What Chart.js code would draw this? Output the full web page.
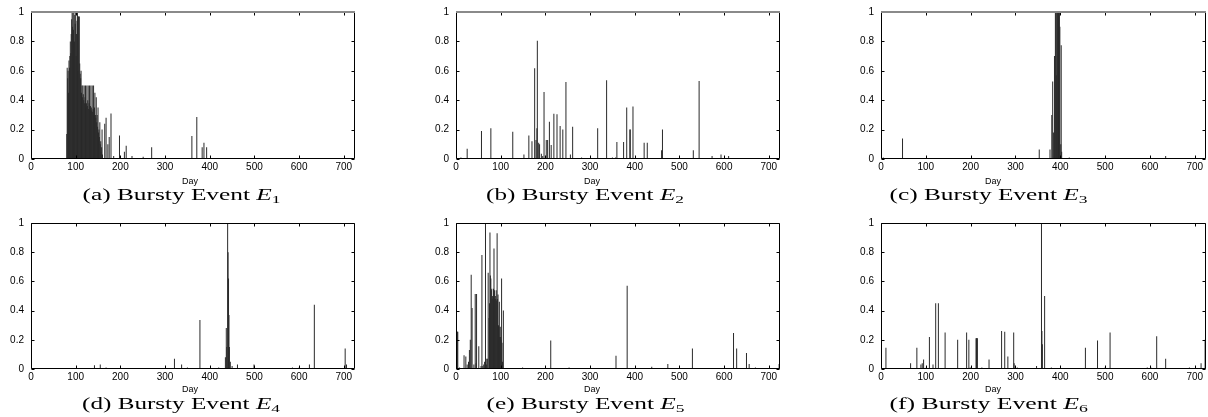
<!DOCTYPE html>
<html><head><meta charset="utf-8">
<script src="https://cdn.jsdelivr.net/npm/chart.js@4.4.0/dist/chart.umd.min.js"></script>
<style>
html,body{margin:0;padding:0;background:#fff;}
body{width:1208px;height:417px;position:relative;overflow:hidden;}
canvas{position:absolute;}
.day{position:absolute;font-family:"Liberation Sans",Arial,sans-serif;font-size:9px;line-height:9px;color:#000;white-space:nowrap;}
.cap{position:absolute;font-family:"Liberation Serif","Times New Roman",serif;font-size:16px;line-height:16px;color:#000;white-space:nowrap;transform-origin:50% 50%;}
.cap sub{font-size:11px;vertical-align:-3px;line-height:0;}
</style></head><body>
<script>
// ---------- data ----------
const xTicks = [0,100,200,300,400,500,600,700];
const yTicks = [0,0.2,0.4,0.6,0.8,1];
const xMax = 725;
const xTitle = "Day";
const captions = ["(a) Bursty Event ", "(b) Bursty Event ", "(c) Bursty Event ", "(d) Bursty Event ", "(e) Bursty Event ", "(f) Bursty Event "];
const capSubs = ["1","2","3","4","5","6"];

const daysA = [80,81,82,83,84,85,86,87,88,89,90,91,92,93,94,95,96,97,98,99,100,101,102,103,104,105,106,107,108,109,110,111,112,113,114,115,116,117,118,119,120,121,122,123,124,125,126,127,128,129,130,131,132,133,134,135,136,137,138,139,140,141,142,143,144,145,146,147,148,149,150,151,152,153,154,155,156,157,158,159,160,165,168,172,175,179,185,198,209,213,226,251,270,360,371,383,387,393];
const valsA = [.17,.62,.55,.60,.45,.67,.62,.70,.80,.72,.85,.95,1,.90,1,.88,1,.80,.98,.92,1,.70,.85,.94,1,.60,.97,.97,.97,.65,.58,.55,.60,.45,.50,.42,.50,.44,.40,.50,.38,.42,.50,.35,.38,.50,.36,.40,.50,.34,.38,.50,.33,.36,.50,.35,.33,.50,.32,.34,.50,.30,.35,.45,.30,.28,.42,.25,.30,.22,.35,.18,.20,.15,.25,.10,.12,.05,.08,.20,.03,.24,.28,.10,.15,.31,.02,.16,.05,.09,.02,.015,.08,.156,.286,.08,.11,.08];

const daysB = [11,25,57,78,127,152,163,170,176,179,181,182,185,187,191,194,197,202,205,209,213,219,226,233,239,246,256,261,281,301,317,337,350,357,360,375,382,389,390,396,421,428,460,462,531,544,573,593,610];
const valsB = [.01,.07,.19,.21,.185,.03,.16,.12,.617,.13,.21,.805,.11,.10,.035,.02,.455,.13,.13,.253,.095,.307,.305,.225,.20,.524,.03,.22,.01,.01,.21,.535,.01,.01,.115,.115,.35,.20,.20,.357,.11,.11,.06,.20,.06,.53,.02,.03,.02];

const daysC = [5,48,120,250,353,377,381,383,385,387,389,390,391,392,393,394,395,396,397,398,399,401,402,403,420,500,635];
const valsC = [.01,.14,.005,.005,.065,.065,.30,.528,.18,.70,1,1,.57,1,1,1,1,1,1,1,.9,.10,.773,.05,.01,.005,.02];

const daysD = [10,142,155,168,321,337,350,378,420,435,437,438,440,441,442,443,444,446,450,462,499,585,600,623,634,703,706];
const valsD = [.005,.026,.03,.01,.07,.03,.01,.335,.01,.08,.28,.15,1,.8,.62,.37,.15,.05,.02,.03,.03,.01,.01,.03,.44,.14,.03];

const daysE = [1,2,3,4,8,18,22,25,28,30,32,34,36,40,43,45,46,51,56,58,60,62,64,66,68,69,70,72,74,75,76,77,78,79,80,81,82,83,84,85,86,87,88,89,90,91,92,93,94,95,96,97,98,99,100,101,102,103,104,106,149,212,238,253,358,383,438,474,529,621,628,650,656,670,723];
const valsE = [.255,.255,.255,.255,.01,.095,.085,.03,.05,.13,.20,.645,.417,.03,.513,.04,.513,.155,.02,.78,.02,.03,.05,1,.03,.07,.07,.66,.35,.45,.935,.64,.62,.54,.55,.48,.50,.49,.55,.826,.54,.48,.50,.48,.54,.47,.93,.48,.51,.30,.29,.46,.22,.29,.22,.20,.62,.18,.05,.40,.01,.195,.005,.01,.09,.57,.015,.035,.14,.246,.14,.11,.035,.01,.035];

const daysF = [11,66,80,89,92,95,101,108,116,122,128,143,171,191,196,199,212,213,214,215,225,241,269,276,283,296,297,304,347,358,359,360,365,380,456,483,500,511,594,602,615,635,688,714,723];
const valsF = [.145,.04,.145,.03,.04,.065,.01,.22,.03,.45,.45,.25,.20,.25,.20,.01,.21,.21,.21,.21,.01,.065,.26,.255,.085,.25,.04,.01,.02,1,.26,.17,.5,.01,.145,.195,.01,.25,.01,.01,.225,.07,.01,.04,.2];

const seriesDays = [daysA, daysB, daysC, daysD, daysE, daysF];
const seriesVals = [valsA, valsB, valsC, valsD, valsE, valsF];

// ---------- layout ----------
const colLeft = [1, 426, 851];
const colWidth = [356, 356, 357];
const rowTop = [-1, 210];
const rowHeight = [180, 179];
const dayX = [190, 592, 993];
const dayY = [181, 389];
const capX = [181, 585, 988];
const capBase = [200, 409];
const capWidth = 198;

const frame = {
  id: 'frame',
  afterDatasetsDraw(chart, args, opts) {
    const {ctx, chartArea, scales} = chart;
    const L = Math.round(chartArea.left) + 0.5, R = Math.round(chartArea.right) - 0.5;
    const T = Math.round(chartArea.top) + 0.5, B = Math.round(chartArea.bottom) - 0.5;
    ctx.save();
    ctx.strokeStyle = '#000'; ctx.lineWidth = 1;
    ctx.beginPath();
    scales.x.ticks.forEach(t => {
      const px = Math.round(scales.x.getPixelForValue(t.value)) + 0.5;
      ctx.moveTo(px, B); ctx.lineTo(px, B - 3);
      ctx.moveTo(px, T); ctx.lineTo(px, T + 3);
    });
    scales.y.ticks.forEach(t => {
      const py = Math.round(scales.y.getPixelForValue(t.value)) + 0.5;
      ctx.moveTo(L, py); ctx.lineTo(L + 3, py);
      ctx.moveTo(R, py); ctx.lineTo(R - 3, py);
    });
    ctx.stroke();
    ctx.beginPath();
    ctx.moveTo(L, T); ctx.lineTo(L, B); ctx.lineTo(R, B); ctx.lineTo(R, T);
    ctx.stroke();
    ctx.beginPath();
    if (opts.grayTop) { ctx.strokeStyle = '#8a8a8a'; ctx.lineWidth = 2; ctx.moveTo(L - 0.5, T - 0.5); ctx.lineTo(R + 0.5, T - 0.5); }
    else { ctx.moveTo(L, T); ctx.lineTo(R, T); }
    ctx.stroke();
    ctx.restore();
  }
};

const tickFont = {family: '"Liberation Sans", Arial, sans-serif', size: 10};

for (let i = 0; i < 6; i++) {
  const r = Math.floor(i / 3), c = i % 3;
  const cv = document.createElement('canvas');
  cv.width = colWidth[c]; cv.height = rowHeight[r];
  cv.style.left = colLeft[c] + 'px'; cv.style.top = rowTop[r] + 'px';
  cv.style.width = colWidth[c] + 'px'; cv.style.height = rowHeight[r] + 'px';
  document.body.appendChild(cv);
  const days = seriesDays[i], vals = seriesVals[i];
  new Chart(cv, {
    type: 'bar',
    data: {datasets: [{
      data: days.map((d, k) => ({x: d, y: vals[k]})),
      backgroundColor: '#2a2a2a', borderWidth: 0, barThickness: 1, inflateAmount: 0, grouped: false
    }]},
    options: {
      responsive: false, animation: false, devicePixelRatio: 1,
      layout: {padding: {top: 6, right: 2, left: 0, bottom: 0}},
      plugins: {legend: {display: false}, tooltip: {enabled: false}, frame: {grayTop: r === 0}},
      scales: {
        x: {
          type: 'linear', min: 0, max: xMax, offset: false,
          grid: {display: false, drawTicks: false}, border: {display: false},
          ticks: {font: tickFont, color: '#000', padding: 2, maxRotation: 0, autoSkip: false, includeBounds: false,
                  callback: v => String(v)},
          afterBuildTicks: s => { s.ticks = xTicks.map(v => ({value: v})); },
          afterFit: s => { s.height = 20; }
        },
        y: {
          type: 'linear', min: 0, max: 1,
          grid: {display: false, drawTicks: false}, border: {display: false},
          ticks: {font: tickFont, color: '#000', padding: 7, callback: v => String(v)},
          afterBuildTicks: s => { s.ticks = yTicks.map(v => ({value: v})); },
          afterFit: s => { s.width = 30; }
        }
      }
    },
    plugins: [frame]
  });

  const day = document.createElement('div');
  day.className = 'day';
  day.textContent = xTitle;
  document.body.appendChild(day);
  day.style.left = (dayX[c] - day.offsetWidth / 2) + 'px';
  day.style.top = (dayY[r] - 4.5) + 'px';

  const cap = document.createElement('div');
  cap.className = 'cap';
  cap.appendChild(document.createTextNode(captions[i]));
  const it = document.createElement('i'); it.textContent = 'E'; cap.appendChild(it);
  const sb = document.createElement('sub'); sb.textContent = capSubs[i]; cap.appendChild(sb);
  document.body.appendChild(cap);
  const w = cap.offsetWidth;
  cap.style.left = (capX[c] - w / 2) + 'px';
  cap.style.top = (capBase[r] - 13) + 'px';
  cap.style.transform = 'scaleX(' + (capWidth / w).toFixed(3) + ')';
}
</script>
</body></html>
